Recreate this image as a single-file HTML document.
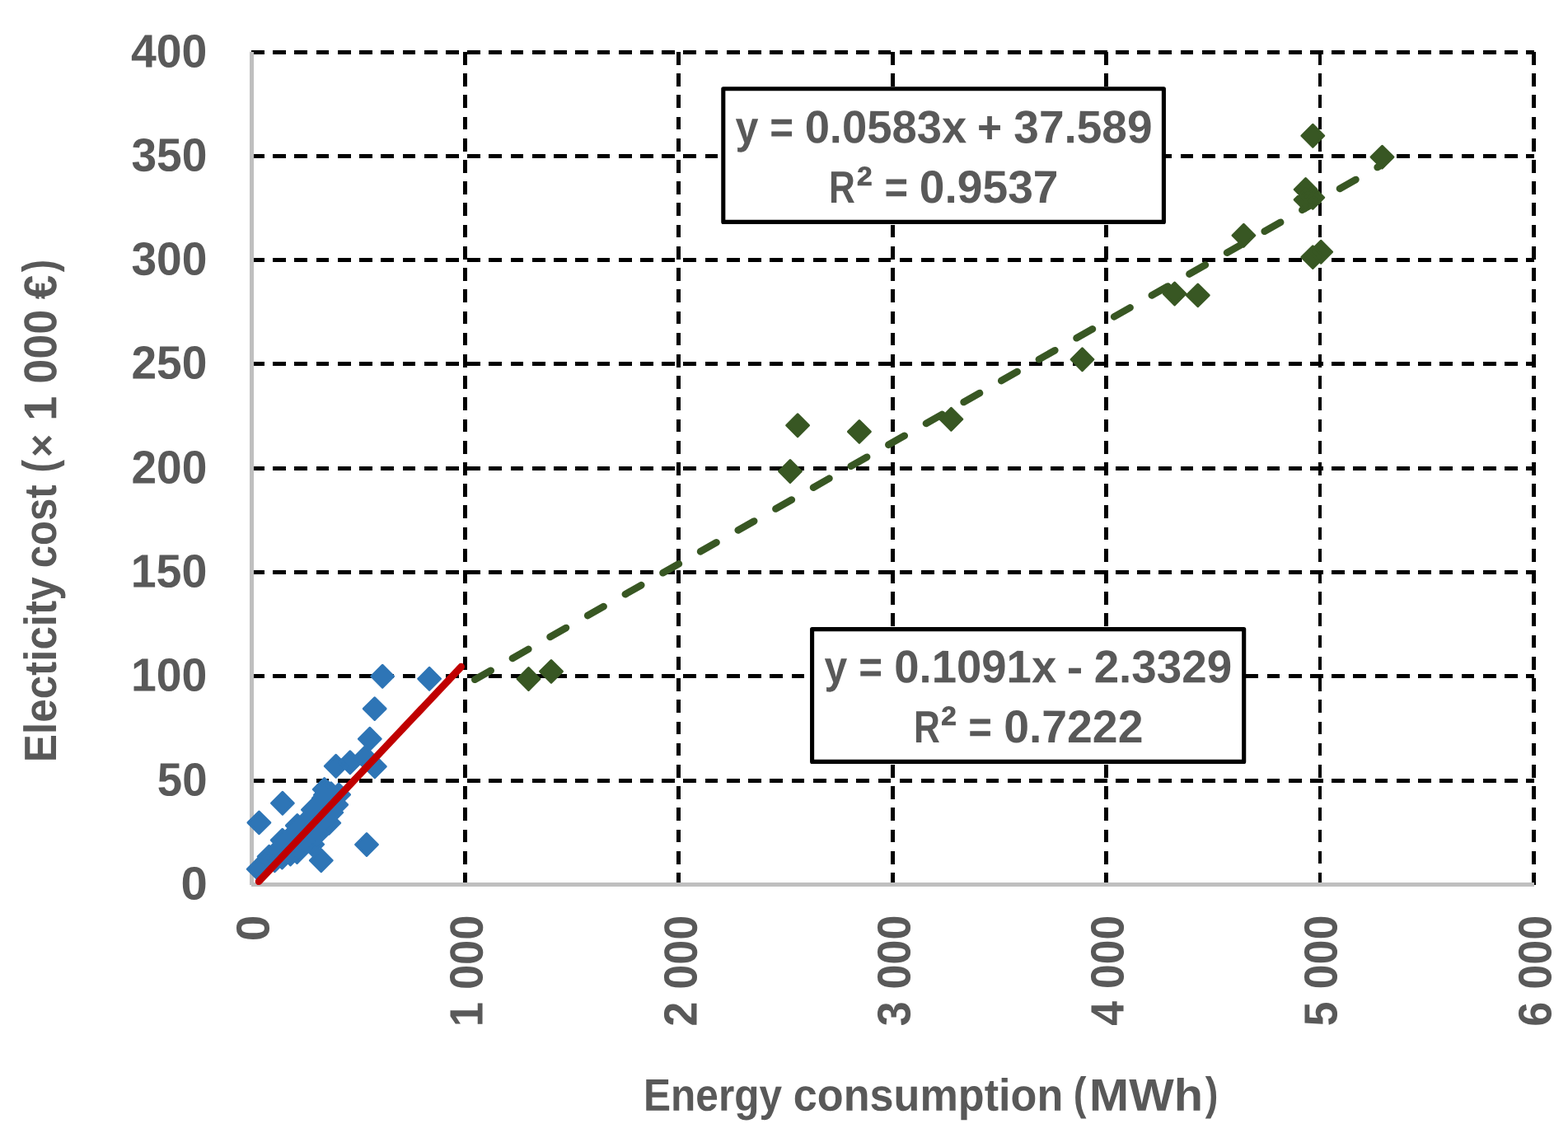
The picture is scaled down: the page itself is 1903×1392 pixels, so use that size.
<!DOCTYPE html>
<html lang="en">
<head>
<meta charset="utf-8">
<title>Electricity cost vs energy consumption</title>
<style>
html,body{margin:0;padding:0;background:#fff;}
body{width:1903px;height:1392px;overflow:hidden;}
svg{display:block;}
text{font-family:'Liberation Sans',sans-serif;font-weight:bold;fill:#595959;white-space:pre;text-rendering:geometricPrecision;}
</style>
</head>
<body>
<svg width="1903" height="1392" viewBox="0 0 1903 1392">
<rect x="0" y="0" width="1903" height="1392" fill="#fff"/>
<g stroke="#000" stroke-width="5" fill="none" shape-rendering="crispEdges">
<line x1="305" y1="947.5" x2="1862" y2="947.5" stroke-dasharray="15.735 10.49"/>
<line x1="305" y1="820.5" x2="1862" y2="820.5" stroke-dasharray="15.735 10.49"/>
<line x1="305" y1="694.5" x2="1862" y2="694.5" stroke-dasharray="15.735 10.49"/>
<line x1="305" y1="568.5" x2="1862" y2="568.5" stroke-dasharray="15.735 10.49"/>
<line x1="305" y1="441.5" x2="1862" y2="441.5" stroke-dasharray="15.735 10.49"/>
<line x1="305" y1="315.5" x2="1862" y2="315.5" stroke-dasharray="15.735 10.49"/>
<line x1="305" y1="189.5" x2="1862" y2="189.5" stroke-dasharray="15.735 10.49"/>
<line x1="305" y1="63.5" x2="1862" y2="63.5" stroke-dasharray="15.735 10.49"/>
<line x1="564.5" y1="63" x2="564.5" y2="1074" stroke-dasharray="15.73 10.48"/>
<line x1="823.5" y1="63" x2="823.5" y2="1074" stroke-dasharray="15.73 10.48"/>
<line x1="1083.5" y1="63" x2="1083.5" y2="1074" stroke-dasharray="15.73 10.48"/>
<line x1="1342.5" y1="63" x2="1342.5" y2="1074" stroke-dasharray="15.73 10.48"/>
<line x1="1602.0" y1="63" x2="1602.0" y2="1074" stroke-dasharray="15.73 10.48" stroke-width="4"/>
<line x1="1861.5" y1="63" x2="1861.5" y2="1074" stroke-dasharray="15.73 10.48"/>
</g>
<g stroke="#BFBFBF" stroke-width="5" fill="none" shape-rendering="crispEdges">
<line x1="305.5" y1="63" x2="305.5" y2="1073.6"/>
<line x1="305.2" y1="1073.5" x2="1861.9" y2="1073.5"/>
</g>
<g stroke="#000" stroke-width="5.1" fill="#fff" stroke-linejoin="round">
<rect x="877.8" y="107.8" width="534.6" height="161.6"/>
<rect x="985.6" y="763.6" width="524.1" height="160.8"/>
</g>
<line x1="576.3" y1="824.8" x2="1677.50" y2="199.72" stroke="#385723" stroke-width="8.6" stroke-linecap="round" stroke-dasharray="22.3 30.18" fill="none"/>
<path fill="#2E75B6" stroke="#2E75B6" stroke-width="2.9" stroke-linejoin="round" d="M450.8 820.8L464.2 807.4L477.6 820.8L464.2 834.2ZM507.7 823.8L521.1 810.4L534.5 823.8L521.1 837.2ZM441.3 860.1L454.7 846.7L468.1 860.1L454.7 873.5ZM435.4 896.7L448.8 883.3L462.2 896.7L448.8 910.1ZM441.5 930.2L454.9 916.8L468.3 930.2L454.9 943.6ZM394.3 929.8L407.7 916.4L421.1 929.8L407.7 943.2ZM411.5 925.3L424.9 911.9L438.3 925.3L424.9 938.7ZM429.8 919.2L443.2 905.8L456.6 919.2L443.2 932.6ZM301.0 998.4L314.4 985.0L327.8 998.4L314.4 1011.8ZM329.5 974.8L342.9 961.4L356.3 974.8L342.9 988.2ZM431.6 1025.0L445.0 1011.6L458.4 1025.0L445.0 1038.4ZM376.4 1044.3L389.8 1030.9L403.2 1044.3L389.8 1057.7ZM300.3 1054.7L313.7 1041.3L327.1 1054.7L313.7 1068.1ZM313.2 1039.6L326.6 1026.2L340.0 1039.6L326.6 1053.0ZM329.3 1019.6L342.7 1006.2L356.1 1019.6L342.7 1033.0ZM347.4 1001.9L360.8 988.5L374.1 1001.9L360.8 1015.2ZM366.5 982.7L379.9 969.3L393.3 982.7L379.9 996.1ZM380.3 958.0L393.7 944.6L407.1 958.0L393.7 971.4ZM388.4 963.3L401.8 949.9L415.2 963.3L401.8 976.7ZM397.7 964.4L411.1 951.0L424.5 964.4L411.1 977.8ZM320.0 1044.4L333.4 1031.0L346.8 1044.4L333.4 1057.8ZM329.0 1040.5L342.4 1027.1L355.8 1040.5L342.4 1053.9ZM339.1 1036.5L352.5 1023.1L365.9 1036.5L352.5 1049.9ZM347.1 1034.0L360.5 1020.6L373.9 1034.0L360.5 1047.4ZM365.8 1024.7L379.2 1011.3L392.6 1024.7L379.2 1038.1ZM371.1 1012.6L384.5 999.2L397.9 1012.6L384.5 1026.0ZM385.9 998.8L399.3 985.4L412.7 998.8L399.3 1012.2ZM388.9 986.0L402.3 972.6L415.7 986.0L402.3 999.4ZM394.8 976.6L408.2 963.2L421.6 976.6L408.2 990.0ZM318.7 1040.1L332.1 1026.7L345.5 1040.1L332.1 1053.5ZM321.4 1036.8L334.8 1023.4L348.2 1036.8L334.8 1050.2ZM324.0 1033.4L337.4 1020.0L350.8 1033.4L337.4 1046.8ZM327.0 1036.4L340.4 1023.0L353.8 1036.4L340.4 1049.8ZM326.7 1030.1L340.1 1016.7L353.5 1030.1L340.1 1043.5ZM329.7 1033.1L343.1 1019.7L356.5 1033.1L343.1 1046.5ZM329.4 1026.8L342.8 1013.4L356.2 1026.8L342.8 1040.2ZM332.4 1029.8L345.8 1016.4L359.2 1029.8L345.8 1043.2ZM335.4 1032.8L348.8 1019.4L362.2 1032.8L348.8 1046.2ZM332.1 1023.5L345.5 1010.1L358.9 1023.5L345.5 1036.9ZM335.1 1026.5L348.5 1013.1L361.9 1026.5L348.5 1039.9ZM338.1 1029.5L351.5 1016.1L364.9 1029.5L351.5 1042.9ZM335.0 1020.4L348.4 1007.0L361.8 1020.4L348.4 1033.8ZM338.0 1023.4L351.4 1010.0L364.8 1023.4L351.4 1036.8ZM341.0 1026.4L354.4 1013.0L367.8 1026.4L354.4 1039.8ZM344.0 1029.4L357.4 1016.0L370.8 1029.4L357.4 1042.8ZM338.0 1017.4L351.4 1004.0L364.8 1017.4L351.4 1030.8ZM341.0 1020.4L354.4 1007.0L367.8 1020.4L354.4 1033.8ZM344.0 1023.4L357.4 1010.0L370.8 1023.4L357.4 1036.8ZM347.0 1026.4L360.4 1013.0L373.8 1026.4L360.4 1039.8ZM341.1 1014.5L354.5 1001.1L367.9 1014.5L354.5 1027.9ZM344.1 1017.5L357.5 1004.1L370.9 1017.5L357.5 1030.9ZM347.1 1020.5L360.5 1007.1L373.9 1020.5L360.5 1033.9ZM350.1 1023.5L363.5 1010.1L376.9 1023.5L363.5 1036.9ZM344.1 1011.5L357.5 998.1L370.9 1011.5L357.5 1024.9ZM347.1 1014.5L360.5 1001.1L373.9 1014.5L360.5 1027.9ZM350.1 1017.5L363.5 1004.1L376.9 1017.5L363.5 1030.9ZM353.1 1020.5L366.5 1007.1L379.9 1020.5L366.5 1033.9ZM356.1 1023.5L369.5 1010.1L382.9 1023.5L369.5 1036.9ZM347.1 1008.5L360.5 995.1L373.9 1008.5L360.5 1021.9ZM350.1 1011.5L363.5 998.1L376.9 1011.5L363.5 1024.9ZM353.1 1014.5L366.5 1001.1L379.9 1014.5L366.5 1027.9ZM356.1 1017.5L369.5 1004.1L382.9 1017.5L369.5 1030.9ZM359.1 1020.5L372.5 1007.1L385.9 1020.5L372.5 1033.9ZM350.1 1005.5L363.5 992.1L376.9 1005.5L363.5 1018.9ZM353.1 1008.5L366.5 995.1L379.9 1008.5L366.5 1021.9ZM356.1 1011.5L369.5 998.1L382.9 1011.5L369.5 1024.9ZM359.1 1014.5L372.5 1001.1L385.9 1014.5L372.5 1027.9ZM362.1 1017.5L375.5 1004.1L388.9 1017.5L375.5 1030.9ZM353.1 1002.5L366.5 989.1L379.9 1002.5L366.5 1015.9ZM356.1 1005.5L369.5 992.1L382.9 1005.5L369.5 1018.9ZM359.1 1008.5L372.5 995.1L385.9 1008.5L372.5 1021.9ZM362.1 1011.5L375.5 998.1L388.9 1011.5L375.5 1025.0ZM365.1 1014.5L378.5 1001.1L391.9 1014.5L378.5 1028.0ZM356.1 999.5L369.5 986.1L382.9 999.5L369.5 1012.9ZM359.1 1002.5L372.5 989.1L385.9 1002.5L372.5 1015.9ZM362.1 1005.5L375.5 992.1L388.9 1005.5L375.5 1018.9ZM365.1 1008.5L378.5 995.1L391.9 1008.5L378.5 1021.9ZM359.1 996.5L372.5 983.1L385.9 996.5L372.5 1009.9ZM362.1 999.5L375.5 986.1L388.9 999.5L375.5 1012.9ZM365.1 1002.5L378.5 989.1L391.9 1002.5L378.5 1015.9ZM368.1 1005.5L381.5 992.1L394.9 1005.5L381.5 1018.9ZM362.1 993.5L375.5 980.1L388.9 993.5L375.5 1006.9ZM365.1 996.5L378.5 983.1L391.9 996.5L378.5 1009.9ZM368.1 999.5L381.5 986.1L394.9 999.5L381.5 1012.9ZM371.1 1002.5L384.5 989.1L397.9 1002.5L384.5 1015.9ZM365.1 990.5L378.5 977.1L391.9 990.5L378.5 1003.9ZM368.1 993.5L381.5 980.1L394.9 993.5L381.5 1006.9ZM371.1 996.5L384.5 983.1L397.9 996.5L384.5 1009.9ZM374.1 999.5L387.5 986.1L400.9 999.5L387.5 1012.9ZM368.1 987.5L381.5 974.1L394.9 987.5L381.5 1000.9ZM371.1 990.5L384.5 977.1L397.9 990.5L384.5 1003.9ZM374.1 993.5L387.5 980.1L400.9 993.5L387.5 1006.9ZM377.1 996.5L390.5 983.1L403.9 996.5L390.5 1009.9ZM370.8 984.2L384.2 970.8L397.6 984.2L384.2 997.6ZM373.8 987.2L387.2 973.8L400.6 987.2L387.2 1000.6ZM376.8 990.2L390.2 976.8L403.6 990.2L390.2 1003.6ZM379.8 993.2L393.2 979.8L406.6 993.2L393.2 1006.6ZM372.9 980.3L386.3 966.9L399.7 980.3L386.3 993.7ZM375.9 983.3L389.3 969.9L402.7 983.3L389.3 996.7ZM378.9 986.3L392.3 972.9L405.7 986.3L392.3 999.7ZM381.9 989.3L395.3 975.9L408.7 989.3L395.3 1002.7ZM375.1 976.5L388.5 963.1L401.9 976.5L388.5 989.9ZM378.1 979.5L391.5 966.1L404.9 979.5L391.5 992.9ZM381.1 982.5L394.5 969.1L407.9 982.5L394.5 995.9ZM384.1 985.5L397.5 972.1L410.9 985.5L397.5 998.9ZM377.2 972.6L390.6 959.2L404.0 972.6L390.6 986.0ZM380.2 975.6L393.6 962.2L407.0 975.6L393.6 989.0ZM383.2 978.6L396.6 965.2L410.0 978.6L396.6 992.0ZM386.2 981.6L399.6 968.2L413.0 981.6L399.6 995.0ZM379.4 968.8L392.8 955.4L406.2 968.8L392.8 982.2ZM382.4 971.8L395.8 958.4L409.2 971.8L395.8 985.2ZM385.4 974.8L398.8 961.4L412.2 974.8L398.8 988.2ZM388.4 977.8L401.8 964.4L415.2 977.8L401.8 991.2ZM381.5 964.9L394.9 951.5L408.3 964.9L394.9 978.3ZM384.5 967.9L397.9 954.5L411.3 967.9L397.9 981.3ZM387.5 970.9L400.9 957.5L414.3 970.9L400.9 984.3ZM390.5 973.9L403.9 960.5L417.3 973.9L403.9 987.3ZM384.4 961.8L397.8 948.4L411.2 961.8L397.8 975.2ZM387.4 964.8L400.8 951.4L414.2 964.8L400.8 978.2ZM390.4 967.8L403.8 954.4L417.2 967.8L403.8 981.2Z"/>
<line x1="314.1" y1="1069.7" x2="559.7" y2="809.2" stroke="#C00000" stroke-width="8.75" stroke-linecap="round" fill="none"/>
<path fill="#385723" stroke="#385723" stroke-width="2.9" stroke-linejoin="round" d="M628.1 824.0L641.5 810.6L654.9 824.0L641.5 837.4ZM655.6 814.9L669.0 801.5L682.4 814.9L669.0 828.3ZM945.6 572.0L959.0 558.6L972.4 572.0L959.0 585.4ZM954.7 516.2L968.1 502.8L981.5 516.2L968.1 529.6ZM1029.5 523.9L1042.9 510.5L1056.3 523.9L1042.9 537.3ZM1141.0 508.8L1154.4 495.4L1167.8 508.8L1154.4 522.2ZM1300.1 436.3L1313.5 422.9L1326.9 436.3L1313.5 449.7ZM1412.2 356.5L1425.6 343.1L1439.0 356.5L1425.6 369.9ZM1440.4 358.4L1453.8 345.0L1467.2 358.4L1453.8 371.8ZM1496.0 285.8L1509.4 272.4L1522.8 285.8L1509.4 299.2ZM1579.9 164.8L1593.3 151.4L1606.7 164.8L1593.3 178.2ZM1664.1 190.6L1677.5 177.2L1690.9 190.6L1677.5 204.0ZM1571.2 230.0L1584.6 216.6L1598.0 230.0L1584.6 243.4ZM1579.9 239.8L1593.3 226.4L1606.7 239.8L1593.3 253.2ZM1571.2 242.4L1584.6 229.0L1598.0 242.4L1584.6 255.8ZM1579.9 312.1L1593.3 298.7L1606.7 312.1L1593.3 325.5ZM1589.8 305.7L1603.2 292.3L1616.6 305.7L1603.2 319.1Z"/>
<text transform="matrix(1.0248 0.0005 0 1 219.38 1091.50)" font-size="56.7">0</text>
<text transform="matrix(0.9632 0.0005 0 1 190.86 965.50)" font-size="56.7">50</text>
<text transform="matrix(0.9771 0.0005 0 1 159.00 838.50)" font-size="56.7">100</text>
<text transform="matrix(0.9804 0.0005 0 1 158.69 712.50)" font-size="56.7">150</text>
<text transform="matrix(0.9720 0.0005 0 1 159.47 586.50)" font-size="56.7">200</text>
<text transform="matrix(0.9720 0.0005 0 1 159.47 459.50)" font-size="56.7">250</text>
<text transform="matrix(0.9725 0.0005 0 1 159.42 333.50)" font-size="56.7">300</text>
<text transform="matrix(0.9725 0.0005 0 1 159.42 207.50)" font-size="56.7">350</text>
<text transform="matrix(0.9774 0.0005 0 1 158.97 81.50)" font-size="56.7">400</text>
<text transform="matrix(0.0005 -1.0062 1 0 326.50 1142.28)" font-size="56.7">0</text>
<text transform="matrix(0.0005 -0.9566 1 0 585.60 1246.33)" font-size="56.7">1 000</text>
<text transform="matrix(0.0005 -0.9527 1 0 845.60 1245.79)" font-size="56.7">2 000</text>
<text transform="matrix(0.0005 -0.9488 1 0 1104.55 1245.24)" font-size="56.7">3 000</text>
<text transform="matrix(0.0005 -0.9450 1 0 1363.55 1244.70)" font-size="56.7">4 000</text>
<text transform="matrix(0.0005 -0.9508 1 0 1622.45 1245.52)" font-size="56.7">5 000</text>
<text transform="matrix(0.0005 -0.9527 1 0 1882.50 1245.79)" font-size="56.7">6 000</text>
<g><text transform="matrix(0.9014 0.0005 0 1 780.98 1347.70)" font-size="55">Energy </text><text transform="matrix(0.9484 0.0005 0 1 962.81 1347.70)" font-size="55">consumption </text><text transform="matrix(0.8540 0.0005 0 1 1302.64 1346.10)" font-size="55.2">(</text><text transform="matrix(1.0499 0.0005 0 1 1322.05 1347.70)" font-size="55">MWh</text><text transform="matrix(0.8540 0.0005 0 1 1462.76 1346.10)" font-size="55.2">)</text></g>
<g><text transform="matrix(0.0005 -0.9310 1 0 67.90 925.23)" font-size="55">Electicity </text><text transform="matrix(0.0005 -0.8914 1 0 67.90 689.16)" font-size="55">cost </text><text transform="matrix(0.0005 -0.8355 1 0 66.44 573.44)" font-size="56">(</text><text transform="matrix(0.0005 -1.0101 1 0 67.00 555.08)" font-size="48">× </text><text transform="matrix(0.0005 -0.9665 1 0 68.30 510.81)" font-size="55.9">1 000 </text><text transform="matrix(0.0005 -0.9485 1 0 68.30 363.17)" font-size="55.9">€</text><text transform="matrix(0.0005 -0.8227 1 0 66.44 330.23)" font-size="56">)</text></g>
<g><text transform="matrix(0.9138 0.0005 0 1 892.56 173.20)" font-size="55">y </text><text transform="matrix(0.8965 0.0005 0 1 934.33 173.20)" font-size="55">= </text><text transform="matrix(0.9742 0.0005 0 1 976.63 173.20)" font-size="55.8">0.0583x </text><text transform="matrix(0.9361 0.0005 0 1 1185.94 173.20)" font-size="55">+ </text><text transform="matrix(0.9855 0.0005 0 1 1230.33 173.20)" font-size="55.8">37.589</text></g>
<g><text transform="matrix(0.8017 0.0005 0 1 1005.93 246.00)" font-size="55">R</text><text transform="matrix(0.9194 0.0005 0 1 1039.32 247.03)" font-size="64.5">² </text><text transform="matrix(0.8893 0.0005 0 1 1073.54 246.00)" font-size="55">= </text><text transform="matrix(0.9885 0.0005 0 1 1115.79 246.00)" font-size="55.8">0.9537</text></g>
<g><text transform="matrix(0.9071 0.0005 0 1 1000.56 828.20)" font-size="55">y </text><text transform="matrix(0.8965 0.0005 0 1 1042.13 828.20)" font-size="55">= </text><text transform="matrix(0.9765 0.0005 0 1 1085.27 828.20)" font-size="55.8">0.1091x </text><text transform="matrix(1.0695 0.0005 0 1 1294.65 828.20)" font-size="55">- </text><text transform="matrix(0.9810 0.0005 0 1 1327.68 828.20)" font-size="55.8">2.3329</text></g>
<g><text transform="matrix(0.8031 0.0005 0 1 1109.03 901.00)" font-size="55">R</text><text transform="matrix(0.9139 0.0005 0 1 1141.43 902.03)" font-size="64.5">² </text><text transform="matrix(0.8929 0.0005 0 1 1175.34 901.00)" font-size="55">= </text><text transform="matrix(0.9920 0.0005 0 1 1218.14 901.00)" font-size="55.8">0.7222</text></g>
</svg>
</body>
</html>
